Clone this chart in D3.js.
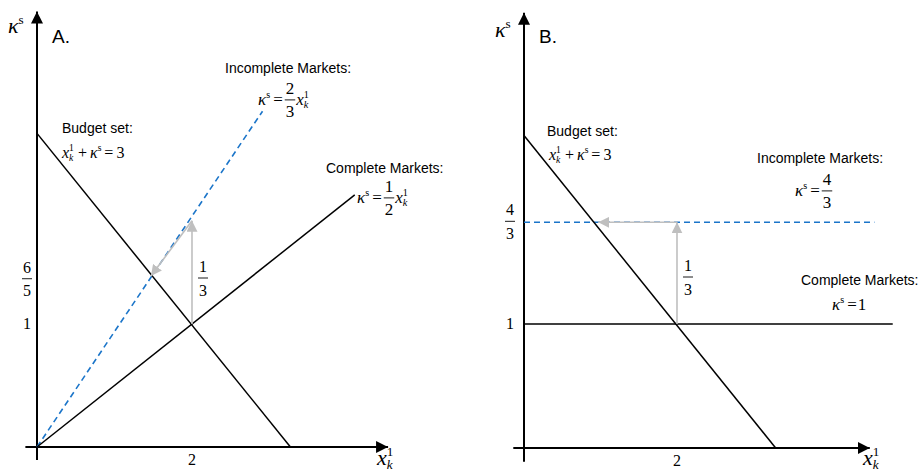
<!DOCTYPE html>
<html><head><meta charset="utf-8">
<script src="https://cdn.jsdelivr.net/npm/d3@7"></script>
<style>
body{margin:0;background:#fff;}
text{font-family:"Liberation Sans",Arial,sans-serif;fill:#000;}
.m text, text.m{font-family:"Liberation Serif","Times New Roman",serif;}
</style></head>
<body><svg id="c" width="922" height="474"></svg>
<script>
// ---------- Data (diagram units) ----------
// Panel A
const budgetA     = [[0, 2.55], [3.27, 0]];
const completeA   = [[0, 0], [4.1, 2.05]];
const incompleteA = [[0, 0], [2.91, 2.73]];
const arrowUpA    = [[2, 1], [2, 1.84]];
const arrowBackA  = [[2, 1.84], [1.47, 1.39]];
const yTickValsA  = [1, 1.36];
const yTickLabsA  = ["1", "6/5"];
const xTickValsA  = [2];
const xTickLabsA  = ["2"];
// Panel B
const budgetB     = [[0, 2.52], [3.29, 0]];
const completeB   = [[0, 1], [4.82, 1]];
const incompleteB = [[0, 1.82], [4.58, 1.82]];
const arrowUpB    = [[2, 1], [2, 1.82]];
const arrowBackB  = [[2, 1.82], [0.97, 1.82]];
const yTickValsB  = [1, 1.82];
const yTickLabsB  = ["1", "4/3"];
const xTickValsB  = [2];
const xTickLabsB  = ["2"];

const svg = d3.select("#c");
const BLUE = "#1b75c9", GRAY = "#bfbfbf";

const defs = svg.append("defs");
defs.append("marker").attr("id","ga").attr("viewBox","0 0 10 10").attr("refX",10).attr("refY",5)
  .attr("markerWidth",11).attr("markerHeight",11).attr("markerUnits","userSpaceOnUse").attr("orient","auto")
  .append("path").attr("d","M0,0 L10,5 L0,10 Z").attr("fill",GRAY);
defs.append("marker").attr("id","ba").attr("viewBox","0 0 10 10").attr("refX",10).attr("refY",5)
  .attr("markerWidth",12).attr("markerHeight",12).attr("markerUnits","userSpaceOnUse").attr("orient","auto")
  .append("path").attr("d","M0,0 L10,5 L0,10 Z").attr("fill","#000");

// ---------- math layout helper ----------
function math(g, x, y, tokens, fs) {
  const grp = g.append("g").attr("class","m");
  let cx = x;
  tokens.forEach(tk => {
    if (tk.t !== undefined) {
      cx += tk.padL || 0;
      const el = grp.append("text").attr("x",cx).attr("y",y).attr("font-size",fs)
        .attr("font-style",tk.it?"italic":"normal").text(tk.t);
      cx += el.node().getComputedTextLength() + (tk.pad || 0);
    } else if (tk.ss) {
      const s = fs*0.6;
      let w = 0;
      if (tk.ss[0]) { const e = grp.append("text").attr("x",cx).attr("y",y - fs*0.42).attr("font-size",s).text(tk.ss[0]); w = Math.max(w, e.node().getComputedTextLength()); }
      if (tk.ss[1]) { const e = grp.append("text").attr("x",cx).attr("y",y + fs*0.2).attr("font-size",s).attr("font-style","italic").text(tk.ss[1]); w = Math.max(w, e.node().getComputedTextLength()); }
      cx += w + 1;
    } else if (tk.frac) {
      cx += tk.padL || 0;
      const yb = y - fs*0.3;
      const n = grp.append("text").attr("y",yb - 6).attr("font-size",fs).attr("text-anchor","middle").text(tk.frac[0]);
      const d = grp.append("text").attr("y",yb + 17.5).attr("font-size",fs).attr("text-anchor","middle").text(tk.frac[1]);
      const w = Math.max(n.node().getComputedTextLength(), d.node().getComputedTextLength()) + 2;
      n.attr("x", cx + w/2); d.attr("x", cx + w/2);
      grp.append("line").attr("x1",cx).attr("x2",cx+w).attr("y1",yb).attr("y2",yb).attr("stroke","#000").attr("stroke-width",0.9);
      cx += w + (tk.pad || 0);
    }
  });
  return grp;
}
function fracAt(g, cxm, yb, a, b, fs) {
  const grp = g.append("g").attr("class","m");
  const n = grp.append("text").attr("x",cxm).attr("y",yb-6).attr("font-size",fs).attr("text-anchor","middle").text(a);
  const d = grp.append("text").attr("x",cxm).attr("y",yb+17.5).attr("font-size",fs).attr("text-anchor","middle").text(b);
  const w = Math.max(n.node().getComputedTextLength(), d.node().getComputedTextLength()) + 2;
  grp.append("line").attr("x1",cxm-w/2).attr("x2",cxm+w/2).attr("y1",yb).attr("y2",yb).attr("stroke","#000").attr("stroke-width",0.9);
}
const KS = [{t:"\u03BA", it:true}, {ss:["s", null]}];
const XK = [{t:"x", it:true}, {ss:["1","k"]}];

// ---------- panel drawing ----------
function panel(cfg) {
  const g = svg.append("g");
  const x = d3.scaleLinear().domain([0,1]).range([cfg.ox, cfg.ox + cfg.ux]);
  const y = d3.scaleLinear().domain([0,1]).range([cfg.oy, cfg.oy - cfg.uy]);
  const line = d3.line().x(d => x(d[0])).y(d => y(d[1]));

  // axes
  g.append("path").attr("d", line([[cfg.xAxis[0],0],[cfg.xAxis[1],0]])).attr("stroke","#000").attr("stroke-width",2).attr("fill","none").attr("marker-end","url(#ba)");
  g.append("path").attr("d", line([[0,cfg.yAxis[0]],[0,cfg.yAxis[1]]])).attr("stroke","#000").attr("stroke-width",2).attr("fill","none").attr("marker-end","url(#ba)");

  // lines
  g.append("path").attr("d", line(cfg.incomplete)).attr("stroke",BLUE).attr("stroke-width",1.6).attr("stroke-dasharray","6,4").attr("fill","none");
  g.append("path").attr("d", line(cfg.complete)).attr("stroke","#000").attr("stroke-width",1.5).attr("fill","none");
  g.append("path").attr("d", line(cfg.budget)).attr("stroke","#000").attr("stroke-width",1.5).attr("fill","none");
  g.append("path").attr("d", line(cfg.arrowUp)).attr("stroke",GRAY).attr("stroke-width",1.6).attr("fill","none").attr("marker-end","url(#ga)");
  g.append("path").attr("d", line(cfg.arrowBack)).attr("stroke",GRAY).attr("stroke-width",1.6).attr("fill","none").attr("marker-end","url(#ga)");

  // y ticks
  cfg.yTickVals.forEach((v,i) => {
    const lab = cfg.yTickLabs[i];
    if (lab.includes("/")) { const p = lab.split("/"); fracAt(g, cfg.ox - cfg.yLabOff, y(v) - 1, p[0], p[1], 16); }
    else g.append("text").attr("class","m").attr("x", cfg.ox - cfg.yLabOff).attr("y", y(v) + 5).attr("font-size",16).attr("text-anchor","middle").text(lab);
  });
  cfg.xTickVals.forEach((v,i) => {
    g.append("text").attr("class","m").attr("x", x(v)).attr("y", cfg.oy + 18).attr("font-size",16).attr("text-anchor","middle").text(cfg.xTickLabs[i]);
  });
  // 1/3 label beside up arrow
  fracAt(g, x(2) + 11, cfg.thirdY, "1", "3", 16);
  return g;
}

const gA = panel({ox:37, oy:447, ux:77.5, uy:123, xAxis:[-0.15,4.53], yAxis:[-0.105,3.54],
  budget:budgetA, complete:completeA, incomplete:incompleteA, arrowUp:arrowUpA, arrowBack:arrowBackA,
  yTickVals:yTickValsA, yTickLabs:yTickLabsA, xTickVals:xTickValsA, xTickLabs:xTickLabsA, yLabOff:10, thirdY:278});
const gB = panel({ox:524, oy:448, ux:76.5, uy:124, xAxis:[-0.14,4.52], yAxis:[-0.11,3.51],
  budget:budgetB, complete:completeB, incomplete:incompleteB, arrowUp:arrowUpB, arrowBack:arrowBackB,
  yTickVals:yTickValsB, yTickLabs:yTickLabsB, xTickVals:xTickValsB, xTickLabs:xTickLabsB, yLabOff:14, thirdY:277});

// ---------- annotations ----------
function label(x, y, t, fs) { svg.append("text").attr("x",x).attr("y",y).attr("font-size",fs||14).text(t); }
// Panel A
label(52, 43, "A.", 19);
label(62, 133, "Budget set:");
label(225, 73, "Incomplete Markets:");
label(326, 173, "Complete Markets:");
math(svg, 8, 33, KS, 22);
math(svg, 377, 465, XK, 22);
math(svg, 62, 158, [...XK, {t:"+", padL:3, pad:3}, ...KS, {t:"=", padL:2, pad:3}, {t:"3"}], 16);
math(svg, 258, 105, [...KS, {t:"=", padL:2, pad:2}, {frac:["2","3"], pad:1}, ...XK], 17);
math(svg, 357, 203, [...KS, {t:"=", padL:2, pad:2}, {frac:["1","2"], pad:1}, ...XK], 17);
// Panel B
label(539, 43, "B.", 19);
label(547, 136, "Budget set:");
label(757, 163, "Incomplete Markets:");
label(801, 285, "Complete Markets:");
math(svg, 495, 37, KS, 22);
math(svg, 863, 465, XK, 22);
math(svg, 549, 160, [...XK, {t:"+", padL:3, pad:3}, ...KS, {t:"=", padL:2, pad:3}, {t:"3"}], 16);
math(svg, 795, 196, [...KS, {t:"=", padL:2, pad:2}, {frac:["4","3"]}], 17);
math(svg, 832, 310, [...KS, {t:"=", padL:2, pad:1}, {t:"1"}], 17);
</script></body></html>
